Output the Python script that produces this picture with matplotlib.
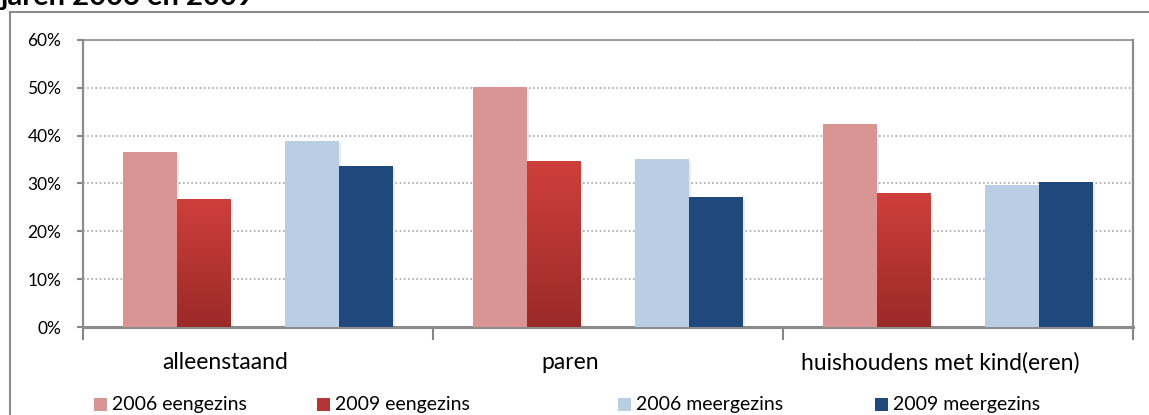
import matplotlib.pyplot as plt
import numpy as np
from matplotlib.lines import Line2D
from matplotlib.patches import Rectangle
from matplotlib.colors import LinearSegmentedColormap
from matplotlib.transforms import ScaledTranslation

plt.rcParams["font.family"] = ["Lato", "DejaVu Sans"]

categories = ["alleenstaand", "paren", "huishoudens met kind(eren)"]
series_names = ["2006 eengezins", "2009 eengezins", "2006 meergezins", "2009 meergezins"]
eengezins_2006 = [36.6, 50.2, 42.4]
eengezins_2009 = [26.7, 34.5, 28.0]
meergezins_2006 = [38.9, 35.1, 29.7]
meergezins_2009 = [33.6, 27.2, 30.3]
y_ticks = [0, 10, 20, 30, 40, 50, 60]

colors = ["#D99594", "#C0393B", "#B9CDE5", "#1F497D"]
red_grad = LinearSegmentedColormap.from_list("redgrad", ["#9A2A28", "#CF3F3B"])

W, H = 1149, 415
fig = plt.figure(figsize=(W / 100, H / 100), dpi=100)
ax = fig.add_axes([83 / W, 1 - 327 / H, 1050 / W, 287 / H])

x = np.arange(len(categories))
w = 0.154
offsets = [-2 * w, -w, w, 2 * w]
series = [eengezins_2006, eengezins_2009, meergezins_2006, meergezins_2009]

for vals, off, col in zip(series, offsets, colors):
    # faint drop shadow
    ax.bar(x + off + 0.006, vals, w, bottom=-0.4, color="#000000", alpha=0.08,
           zorder=2, linewidth=0)
    ax.bar(x + off, vals, w, color=col, zorder=3, linewidth=0)

# gradient fill for 2009 eengezins bars
grad = np.linspace(0, 1, 256).reshape(-1, 1)
for xi, v in zip(x, eengezins_2009):
    x0 = xi - w - w / 2
    ax.imshow(grad, cmap=red_grad, origin="lower", aspect="auto",
              extent=[x0, x0 + w, 0, v], zorder=4)

ax.set_xlim(-0.5, 2.5)
ax.set_ylim(0, 60)

ax.set_yticks(y_ticks)
ax.set_yticklabels([f"{t}%" for t in y_ticks], fontsize=12.5)
ax.yaxis.grid(True, linestyle=(0, (1, 1.5)), color="#A6A6A6", linewidth=1.2, zorder=0)
ax.set_axisbelow(True)

ax.set_xticks(x)
ax.set_xticklabels(categories, fontsize=16.5)
ax.set_xticks([-0.5, 0.5, 1.5, 2.5], minor=True)
ax.tick_params(axis="x", which="major", length=0, pad=18)
ax.tick_params(axis="x", which="minor", length=9, width=1.5, color="#868686")
ax.tick_params(axis="y", length=4.5, width=1.5, color="#868686", pad=11)

# Excel placed the category labels a little left of centre
for lab, dx in zip(ax.get_xticklabels(), [-33, -38, -18]):
    lab.set_transform(lab.get_transform() + ScaledTranslation(dx / 100, 0, fig.dpi_scale_trans))

for side, lw in [("left", 1.6), ("bottom", 2.2), ("top", 1.2), ("right", 1.6)]:
    ax.spines[side].set_color("#8C8C8C")
    ax.spines[side].set_linewidth(lw)

# legend, laid out by hand like the original
leg_colors = ["#D99594", "#B53534", "#B9CDE5", "#1F497D"]
square_x = [94, 317, 618, 875]
leg_y = 404
for sx, col, name in zip(square_x, leg_colors, series_names):
    fig.add_artist(Rectangle((sx / W, 1 - (leg_y + 6.5) / H), 13 / W, 13 / H,
                             transform=fig.transFigure, color=col, linewidth=0))
    fig.text((sx + 18) / W, 1 - leg_y / H, name, fontsize=14, ha="left", va="center")

# outer chart frame (partially outside the image)
fig.add_artist(Line2D([10 / W, 10 / W], [0, 1 - 12 / H],
                      transform=fig.transFigure, color="#8C8C8C", linewidth=1.5))
fig.add_artist(Line2D([10 / W, 1.0], [1 - 12 / H, 1 - 12 / H],
                      transform=fig.transFigure, color="#8C8C8C", linewidth=1.5))

fig.text(0.0, 1 - 5 / H, "jaren 2006 en 2009", fontsize=21, fontweight="bold",
         ha="left", va="baseline")

fig.savefig("out.png", dpi=100)
